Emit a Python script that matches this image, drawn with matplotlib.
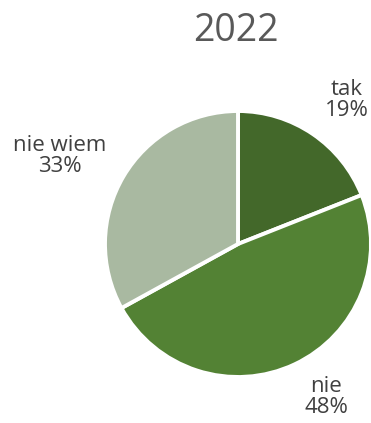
import numpy as np
import matplotlib
matplotlib.use("Agg")
import matplotlib.pyplot as plt

title = "2022"
categories = ["tak", "nie", "nie wiem"]
shares = [19, 48, 33]
colors = ["#43682A", "#538234", "#A9B9A1"]

# label placement around the pie: distance (in radii) and angle (degrees)
label_dist = [1.358, 1.327, 1.493]
label_angle = [52.9, -60.1, 153.7]

W, H = 371, 423
fig = plt.figure(figsize=(W / 100, H / 100), dpi=100)
fig.patch.set_facecolor("white")

cx, cy, r = 238, 244, 133
ax = fig.add_axes([(cx - r) / W, (H - cy - r) / H, 2 * r / W, 2 * r / H])
wedges, _ = ax.pie(shares, colors=colors, startangle=90, counterclock=False,
                   radius=1.0,
                   wedgeprops=dict(edgecolor="white", linewidth=2.8))
ax.set_xlim(-1, 1)
ax.set_ylim(-1, 1)
ax.set_aspect("auto")
ax.axis("off")

for cat, val, d, a in zip(categories, shares, label_dist, label_angle):
    t = np.deg2rad(a)
    ax.text(d * np.cos(t), d * np.sin(t), f"{cat}\n{val}%", ha="center", va="center",
            fontsize=16, color="#404040", family="Open Sans", linespacing=1.0)

fig.text(235.5 / W, 1 - 31 / H, title, ha="center", va="center", fontsize=27,
         color="#595959", family="Open Sans")

fig.savefig("out.png", dpi=100)
